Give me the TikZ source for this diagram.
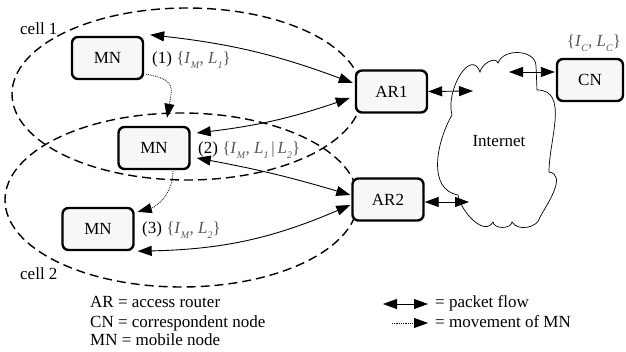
\documentclass[tikz,border=0pt]{standalone}
\usepackage{fontspec}
\setmainfont{Liberation Serif}
\usetikzlibrary{arrows.meta}
% italic symbol with a lowered italic subscript
\newcommand{\sym}[2]{\textit{#1}\raisebox{-0.55ex}{\fontsize{10}{10}\selectfont\textit{#2}}}

\begin{document}
\begin{tikzpicture}[x=1pt,y=1pt,
  font=\fontsize{17}{20}\selectfont,
  box/.style={draw, line width=2.4pt, rounded corners=6pt, fill=black!3,
    minimum width=71pt, minimum height=42pt, inner sep=0pt},
  cell/.style={dash pattern=on 9pt off 5pt, line width=1.4pt},
  flow/.style={line width=0.9pt, {Triangle[length=14pt,width=10pt]}-{Triangle[length=14pt,width=10pt]}},
  move/.style={line width=0.8pt, densely dotted, -{Triangle[length=14pt,width=10pt]}},
  lbl/.style={anchor=base west, inner sep=0pt},
  addr/.style={text=black!65}]
\useasboundingbox (0,0) rectangle (626,-352);

% radio cells
\draw[cell] (187,-94) ellipse [x radius=175, y radius=86];
\draw[cell] (181.5,-200) ellipse [x radius=176.5, y radius=87];
\node[lbl] (cell1) at (20,-35) {cell 1};
\node[lbl] (cell2) at (20,-280) {cell 2};

% the Internet cloud
\draw[line width=0.7pt, fill=white]
  (452,-115) to[out=105,in=110,looseness=1.3] (480,-72)
  to[out=80,in=110] (498,-63)
  to[out=70,in=90,looseness=1.1] (536,-66) -- (537,-90)
  to[out=0,in=90] (549,-172)
  to[out=-10,in=60] (540,-217)
  to[out=-100,in=-60] (512,-222)
  to[out=-100,in=-80] (493,-222)
  to[out=-120,in=-80] (458,-195)
  to[out=170,in=-120] (452,-115) -- cycle;
\node[anchor=base, inner sep=0pt] (inet) at (499,-147) {Internet};
\coordinate (in1) at (473,-91);
\coordinate (in2) at (509,-72);
\coordinate (in3) at (469,-202);

% nodes
\node[box] (mn1) at (107.5,-58) {MN};
\node[box] (mn2) at (154,-148) {MN};
\node[box] (mn3) at (98,-229) {MN};
\node[box] (ar1) at (391.5,-91.5) {AR1};
\node[box] (ar2) at (388,-199.5) {AR2};
\node[box, minimum width=66pt] (cn) at (590,-80) {CN};

% address labels
\node[lbl] (l1) at (152,-64) {(1) {\color{black!65}\{\sym{I}{M}, \sym{L}{1}\}}};
\node[lbl] (l2) at (198,-154) {(2) {\color{black!65}\{\sym{I}{M}, \sym{L}{1}\,|\,\sym{L}{2}\}}};
\node[lbl] (l3) at (142,-234) {(3) {\color{black!65}\{\sym{I}{M}, \sym{L}{2}\}}};
\node[anchor=base, inner sep=0pt, addr] (lc) at (594,-47) {\{\sym{I}{C}, \sym{L}{C}\}};

% packet flows
\draw[flow] ([shift={(6,1)}]mn1.north east) to[bend left=7] ([shift={(-2,8.5)}]ar1.west);
\draw[flow] ([shift={(6,15)}]mn2.east) to[bend right=6] ([shift={(-5,-6.5)}]ar1.west);
\draw[flow] ([shift={(6,-10)}]mn2.east) to[bend left=3] ([shift={(-1,4.5)}]ar2.west);
\draw[flow] ([shift={(3,0)}]mn3.south east) to[bend right=11] ([shift={(-1,-5.5)}]ar2.west);
\draw[flow] (ar1.east) -- (in1);
\draw[flow] (in2) -- ([shift={(-1,8)}]cn.west);
\draw[flow] ([yshift=-2.5]ar2.east) -- (in3);

% movement of the mobile node
\draw[move] ([shift={(2,6)}]mn1.south east) to[out=-10,in=80,looseness=1.6] ([shift={(13,8)}]mn2.north);
\draw[move] ([shift={(19,-1)}]mn2.south) to[out=-90,in=15] ([shift={(3,-5)}]mn3.north east);

% legend
\node[lbl] (k1) at (90,-308) {AR = access router};
\node[lbl] (k2) at (90,-327) {CN = correspondent node};
\node[lbl] (k3) at (90,-345) {MN = mobile node};
\coordinate (pa) at (383,-304);
\coordinate (pb) at (428,-304);
\coordinate (ma) at (392,-323);
\coordinate (mb) at (428,-323);
\draw[flow] (pa) -- (pb);
\draw[move] (ma) -- (mb);
\node[lbl] (k4) at (435,-308) {= packet flow};
\node[lbl] (k5) at (435,-327) {= movement of MN};
\end{tikzpicture}
\end{document}
